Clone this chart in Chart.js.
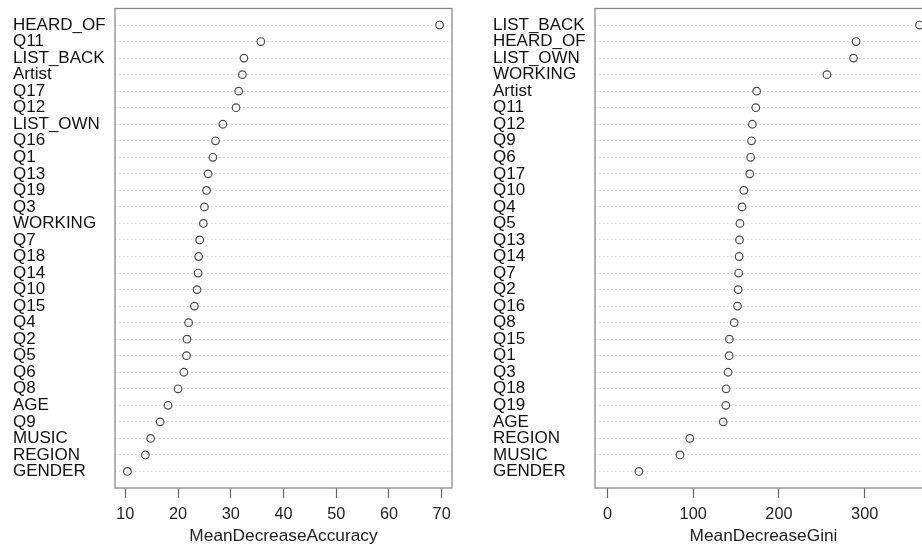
<!DOCTYPE html>
<html>
<head>
<meta charset="utf-8">
<script src="https://cdn.jsdelivr.net/npm/chart.js@4"></script>
<style>
  html, body { margin: 0; padding: 0; background: #fff; overflow: hidden; width: 922px; height: 546px; }
  #wrap { position: relative; width: 960px; height: 546px; }
  #accCanvas { position: absolute; left: 0; top: 0; }
  #giniCanvas { position: absolute; left: 480px; top: 0; }
</style>
</head>
<body>
<div id="wrap">
  <canvas id="accCanvas" width="461" height="546"></canvas>
  <canvas id="giniCanvas" width="461" height="546"></canvas>
</div>
<script>
// MeanDecreaseAccuracy (top to bottom)
const accLabels = ["HEARD_OF", "Q11", "LIST_BACK", "Artist", "Q17", "Q12", "LIST_OWN", "Q16", "Q1", "Q13",
  "Q19", "Q3", "WORKING", "Q7", "Q18", "Q14", "Q10", "Q15", "Q4", "Q2",
  "Q5", "Q6", "Q8", "AGE", "Q9", "MUSIC", "REGION", "GENDER"];
const accValues = [69.6, 35.7, 32.5, 32.2, 31.5, 31.0, 28.5, 27.1, 26.6, 25.7,
  25.4, 25.0, 24.8, 24.1, 23.9, 23.8, 23.6, 23.1, 22.0, 21.7,
  21.6, 21.1, 20.0, 18.1, 16.6, 14.8, 13.8, 10.4];
const accTicks = [10, 20, 30, 40, 50, 60, 70];

// MeanDecreaseGini (top to bottom)
const giniLabels = ["LIST_BACK", "HEARD_OF", "LIST_OWN", "WORKING", "Artist", "Q11", "Q12", "Q9", "Q6", "Q17",
  "Q10", "Q4", "Q5", "Q13", "Q14", "Q7", "Q2", "Q16", "Q8", "Q15",
  "Q1", "Q3", "Q18", "Q19", "AGE", "REGION", "MUSIC", "GENDER"];
const giniValues = [364, 290, 287, 256, 174, 173, 169, 168, 167, 166,
  159, 157, 154.5, 154, 153.6, 153, 152.4, 151.7, 147.8, 142.2,
  142, 140.7, 138.4, 138, 135, 96, 84.6, 36.6];
const giniTicks = [0, 100, 200, 300];

const FONT = "'Liberation Sans', Arial, Helvetica, sans-serif";

// box around the plotting region, like R's box()
const boxPlugin = {
  id: "box",
  afterDraw(chart) {
    const a = chart.chartArea, c = chart.ctx;
    c.save();
    c.strokeStyle = "#8a8a8a";
    c.lineWidth = 1.3;
    c.strokeRect(a.left, a.top, a.right - a.left, a.bottom - a.top);
    c.restore();
  }
};

function makeDotChart(id, labels, values, ticks, xmin, xmax, title) {
  const n = labels.length;
  const rows = labels.map((l, i) => n - i);
  const points = values.map((v, i) => ({ x: v, y: n - i }));
  const ctx = document.getElementById(id).getContext("2d");
  return new Chart(ctx, {
    type: "scatter",
    data: {
      datasets: [{
        data: points,
        pointStyle: "circle",
        pointRadius: 3.8,
        pointBorderWidth: 1.2,
        borderColor: "#4a4a4a",
        backgroundColor: "rgba(255,255,255,0)",
        showLine: false,
        clip: false,
      }],
    },
    options: {
      responsive: false,
      animation: false,
      layout: { padding: { left: 13, right: 9, top: 7, bottom: 0 } },
      plugins: { legend: { display: false }, tooltip: { enabled: false } },
      scales: {
        x: {
          type: "linear",
          min: xmin,
          max: xmax,
          afterBuildTicks: (s) => { s.ticks = ticks.map((v) => ({ value: v })); },
          afterFit: (s) => { s.height = 58; },
          border: { display: false },
          grid: { drawOnChartArea: false, drawTicks: true, tickLength: 10, tickColor: "#666", tickWidth: 1.2 },
          ticks: { color: "#222", padding: 7, maxRotation: 0, font: { family: FONT, size: 16.3 } },
          title: {
            display: true,
            text: title,
            color: "#222",
            padding: { top: 0, bottom: -1 },
            font: { family: FONT, size: 17.3 },
          },
        },
        y: {
          type: "linear",
          min: 0,
          max: n + 1,
          afterBuildTicks: (s) => { s.ticks = rows.map((v) => ({ value: v })); },
          afterFit: (s) => { s.width = 102; },
          border: { display: false, dash: [1.5, 2.5] },
          grid: { color: "#d2d2d2", lineWidth: 1, drawTicks: false },
          ticks: {
            crossAlign: "far",
            padding: 0,
            color: "#111",
            autoSkip: false,
            font: { family: FONT, size: 17, lineHeight: 1 },
            callback: (v) => labels[n - v],
          },
        },
      },
    },
    plugins: [boxPlugin],
  });
}

try {
  makeDotChart("accCanvas", accLabels, accValues, accTicks, 8.04, 71.96, "MeanDecreaseAccuracy");
} catch (e) {
  console.error("accuracy chart failed:", e);
}

try {
  makeDotChart("giniCanvas", giniLabels, giniValues, giniTicks, -14.56, 378.56, "MeanDecreaseGini");
} catch (e) {
  console.error("gini chart failed:", e);
}
</script>
</body>
</html>
